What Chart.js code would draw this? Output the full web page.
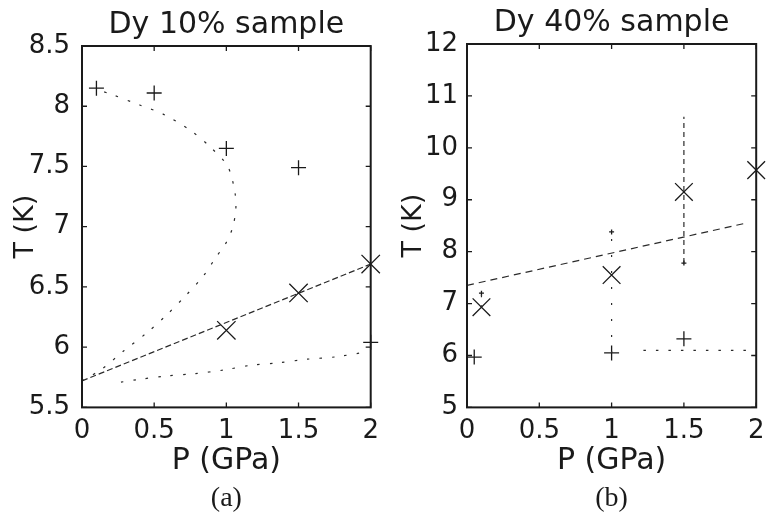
<!DOCTYPE html>
<html><head><meta charset="utf-8">
<script src="https://cdn.jsdelivr.net/npm/chart.js@4"></script>
<style>
html,body{margin:0;padding:0;background:#fff;}
#wrap{position:relative;width:770px;height:520px;overflow:hidden;background:#fff;}
canvas{position:absolute;top:0;}
#ca{left:0;} #cb{left:385px;}
</style></head><body>
<div id="wrap"><canvas id="ca" width="385" height="520"></canvas><canvas id="cb" width="385" height="520"></canvas></div>
<script>
// ---- tick labels ----
const pressureTicks = [0, 0.5, 1, 1.5, 2];
const tempTicksA = [5.5, 6, 6.5, 7, 7.5, 8, 8.5];
const tempTicksB = [5, 6, 7, 8, 9, 10, 11, 12];

// ---- panel (a): Dy 10% sample ----
const aPlusP = [0.1, 0.5, 1.0, 1.5, 2.0];
const aPlusT = [8.15, 8.11, 7.65, 7.49, 6.04];
const aCrossP = [1.0, 1.5, 2.0];
const aCrossT = [6.14, 6.45, 6.69];
const aFitP = [0, 2];
const aFitT = [5.72, 6.69];
const aUpperP = [0, 0.14, 0.29, 0.45, 0.58, 0.72, 0.84, 0.93, 1.0, 1.04, 1.065, 1.06, 1.01, 0.89, 0.75, 0.57, 0.40, 0.20, 0.1];
const aUpperT = [5.72, 5.82, 5.97, 6.12, 6.26, 6.43, 6.59, 6.75, 6.87, 6.98, 7.13, 7.28, 7.5, 7.66, 7.8, 7.93, 8.01, 8.1, 8.14];
const aLowerP = [0.27, 0.38, 0.58, 0.78, 0.98, 1.17, 1.36, 1.56, 1.76, 1.97];
const aLowerT = [5.71, 5.73, 5.76, 5.78, 5.81, 5.85, 5.87, 5.90, 5.92, 5.96];

// ---- panel (b): Dy 40% sample ----
const bPlusP = [0.05, 1.0, 1.5];
const bPlusT = [5.97, 6.05, 6.32];
const bCapP = [1.0, 1.5, 0.1];
const bCapT = [8.38, 7.78, 7.2];
const bCrossP = [0.1, 1.0, 1.5, 2.0];
const bCrossT = [6.93, 7.55, 9.15, 9.57];
const bFitP = [0, 1.93];
const bFitT = [7.35, 8.55];
const bBarP = [1.5, 1.5];
const bBarT = [7.78, 10.6];
const bVertP = [1.0, 1.0];
const bVertT = [6.05, 8.38];
const bHorP = [1.22, 1.95];
const bHorT = [6.1, 6.1];
const bErrP = [0.1, 0.1];
const bErrT = [6.93, 7.2];

const pts = (P, T) => P.map((p, i) => ({x: p, y: T[i]}));
const INK = '#1a1a1a';
const FONT = "'DejaVu Sans', sans-serif";

const boxTicks = {
  id: 'boxTicks',
  afterDatasetsDraw(chart) {
    const {ctx, chartArea: a, scales: {x, y}} = chart;
    ctx.save();
    ctx.strokeStyle = INK;
    ctx.lineWidth = 1.3;
    const L = 5;
    ctx.beginPath();
    x.ticks.forEach(t => {
      const px = x.getPixelForValue(t.value);
      ctx.moveTo(px, a.bottom); ctx.lineTo(px, a.bottom - L);
      ctx.moveTo(px, a.top); ctx.lineTo(px, a.top + L);
    });
    y.ticks.forEach(t => {
      const py = y.getPixelForValue(t.value);
      ctx.moveTo(a.left, py); ctx.lineTo(a.left + L, py);
      ctx.moveTo(a.right, py); ctx.lineTo(a.right - L, py);
    });
    ctx.stroke();
    ctx.lineWidth = 2;
    ctx.strokeRect(a.left, a.top, a.right - a.left, a.bottom - a.top);
    ctx.restore();
  }
};

function lineDs(P, T, dash, extra) {
  return Object.assign({data: pts(P, T), showLine: true, pointRadius: 0, borderColor: '#2a2a2a',
    borderWidth: 1.2, borderDash: dash, fill: false}, extra || {});
}
function markDs(P, T, style, r) {
  return {data: pts(P, T), showLine: false, pointStyle: style, pointRadius: r, pointHoverRadius: r,
    pointBorderColor: INK, pointBackgroundColor: 'rgba(0,0,0,0)', pointBorderWidth: 1.3, clip: false};
}

function makePanel(id, cfg) {
  return new Chart(document.getElementById(id), {
    type: 'scatter',
    data: {datasets: cfg.datasets},
    plugins: [boxTicks],
    options: {
      responsive: false, animation: false, events: [],
      layout: {padding: {left: 0, right: cfg.padRight, top: cfg.padTop, bottom: 5}},
      plugins: {
        legend: {display: false}, tooltip: {enabled: false},
        title: {display: true, text: cfg.title, fullSize: false, color: INK,
          font: {family: FONT, size: 30, weight: 'normal'}, padding: {top: 5.5, bottom: 2.5}},
        subtitle: {display: true, text: cfg.label, position: 'bottom', fullSize: false, color: INK,
          font: {family: "'Liberation Serif', 'DejaVu Serif', serif", size: 28, weight: 'normal'}, padding: {top: 2, bottom: 0}}
      },
      scales: {
        x: {
          type: 'linear', min: 0, max: 2,
          afterBuildTicks: s => { s.ticks = pressureTicks.map(v => ({value: v})); },
          afterFit: s => { s.height = 72; s.paddingLeft = 0; s.paddingRight = 0; },
          grid: {display: false, drawTicks: false}, border: {display: false},
          ticks: {color: INK, font: {family: FONT, size: 26}, padding: 8, maxRotation: 0, autoSkip: false,
            callback: v => String(v)},
          title: {display: true, text: 'P (GPa)', color: INK, font: {family: FONT, size: 30}, padding: {top: 0, bottom: 0}}
        },
        y: {
          type: 'linear', min: cfg.yMin, max: cfg.yMax,
          afterBuildTicks: s => { s.ticks = cfg.yTicks.map(v => ({value: v})); },
          afterFit: s => { s.width = 82; s.paddingTop = 0; s.paddingBottom = 0; },
          grid: {display: false, drawTicks: false}, border: {display: false},
          ticks: {color: INK, font: {family: FONT, size: 26}, padding: cfg.yPad, autoSkip: false,
            callback: v => String(v)},
          title: {display: true, text: 'T (K)', color: INK, font: {family: FONT, size: 27}, padding: {top: cfg.yTitlePad, bottom: 0}}
        }
      }
    }
  });
}

makePanel('ca', {
  title: 'Dy 10% sample', label: '(a)', padTop: 2, padRight: 7,
  yMin: 5.5, yMax: 8.5, yTicks: tempTicksA, yPad: 12, yTitlePad: 10,
  datasets: [
    lineDs(aUpperP, aUpperT, [2.5, 10], {tension: 0.3}),
    lineDs(aLowerP, aLowerT, [2.5, 10], {tension: 0.3}),
    lineDs(aFitP, aFitT, [6, 3]),
    markDs(aPlusP, aPlusT, 'cross', 7.5),
    markDs(aCrossP, aCrossT, 'crossRot', 13)
  ]
});

makePanel('cb', {
  title: 'Dy 40% sample', label: '(b)', padTop: 0, padRight: 9,
  yMin: 5, yMax: 12, yTicks: tempTicksB, yPad: 9, yTitlePad: 13,
  datasets: [
    lineDs(bFitP, bFitT, [7, 5]),
    lineDs(bBarP, bBarT, [5, 4]),
    lineDs(bVertP, bVertT, [2, 14]),
    lineDs(bHorP, bHorT, [2.5, 10]),
    lineDs(bErrP, bErrT, [2, 8]),
    markDs(bPlusP, bPlusT, 'cross', 7.5),
    markDs(bCapP, bCapT, 'cross', 2.5),
    markDs(bCrossP, bCrossT, 'crossRot', 12.5)
  ]
});
</script>
</body></html>
